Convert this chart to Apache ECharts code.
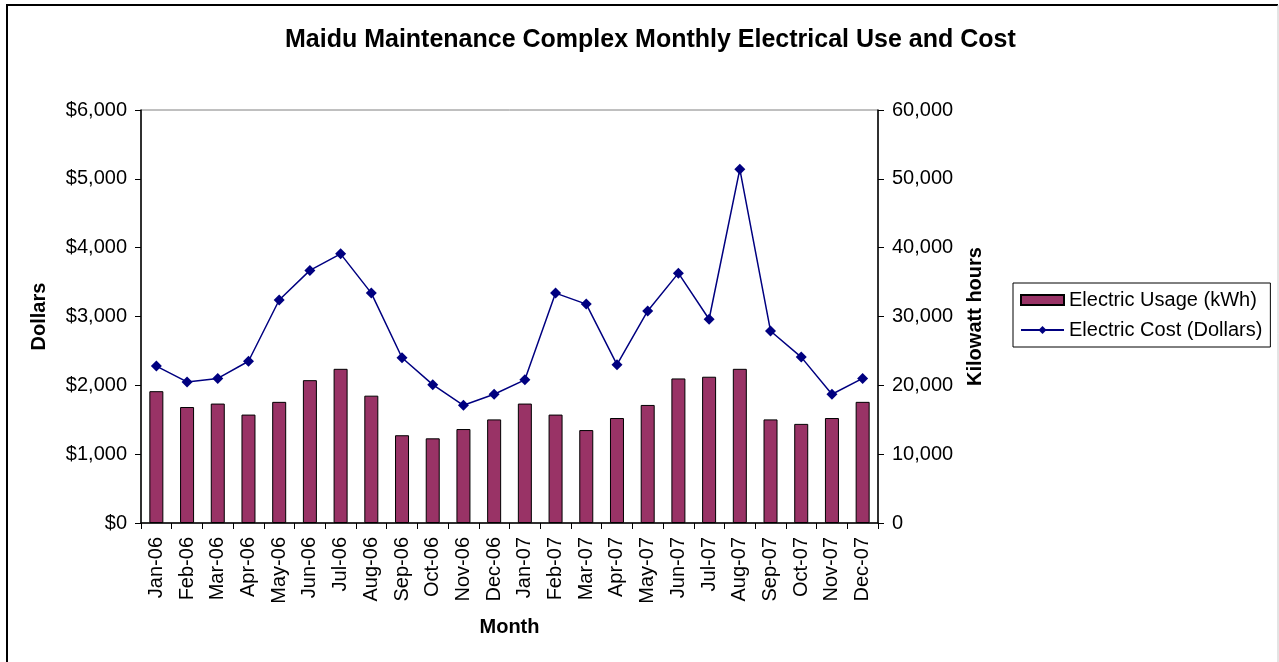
<!DOCTYPE html>
<html>
<head>
<meta charset="utf-8">
<style>
html,body{margin:0;padding:0;background:#fff;}
#chart{width:1279px;height:662px;}
</style>
<script src="https://cdn.jsdelivr.net/npm/echarts@6/dist/echarts.min.js"></script>
</head>
<body>
<div id="chart"></div>
<script>
var titleText = 'Maidu Maintenance Complex Monthly Electrical Use and Cost';
var months = ['Jan-06','Feb-06','Mar-06','Apr-06','May-06','Jun-06','Jul-06','Aug-06','Sep-06','Oct-06','Nov-06','Dec-06',
              'Jan-07','Feb-07','Mar-07','Apr-07','May-07','Jun-07','Jul-07','Aug-07','Sep-07','Oct-07','Nov-07','Dec-07'];
var usageKwh = [19150, 16850, 17350, 15750, 17600, 20750, 22400, 18500, 12750, 12300, 13650, 15050,
                17350, 15750, 13500, 15250, 17150, 21000, 21250, 22400, 15050, 14400, 15250, 17600];
var costDollars = [2280, 2050, 2100, 2350, 3240, 3670, 3910, 3340, 2400, 2010, 1710, 1870,
                   2080, 3340, 3180, 2300, 3080, 3630, 2960, 5140, 2790, 2410, 1870, 2100];
var usageName = 'Electric Usage (kWh)';
var costName = 'Electric Cost (Dollars)';

function commas(v){
  return String(v).replace(/\B(?=(\d{3})+(?!\d))/g, ',');
}

var FONT = 'Liberation Sans, Arial, sans-serif';
var chart = echarts.init(document.getElementById('chart'));
chart.setOption({
  backgroundColor: '#ffffff',
  animation: false,
  textStyle: { fontFamily: FONT },
  title: {
    text: titleText,
    left: 280,
    top: 23,
    textStyle: { fontFamily: FONT, fontSize: 25, fontWeight: 'bold', color: '#000' }
  },
  legend: {
    orient: 'vertical',
    left: 1013,
    top: 283,
    padding: [7, 8, 7, 7],
    itemGap: 10,
    itemWidth: 43,
    itemHeight: 10,
    borderColor: '#000',
    borderWidth: 1,
    textStyle: { fontFamily: FONT, fontSize: 20, color: '#000' },
    data: [
      { name: usageName, icon: 'rect' },
      { name: costName }
    ]
  },
  grid: {
    left: 141, right: 401, top: 110, bottom: 139,
    show: true, borderColor: '#808080', borderWidth: 1, backgroundColor: 'transparent'
  },
  xAxis: {
    type: 'category',
    data: months,
    name: 'Month',
    nameLocation: 'middle',
    nameGap: 94,
    nameTextStyle: { fontFamily: FONT, fontSize: 20, fontWeight: 'bold', color: '#000' },
    axisLine: { lineStyle: { color: '#000', width: 1.5 } },
    axisTick: { show: true, length: 6, alignWithLabel: false, lineStyle: { color: '#000' } },
    axisLabel: { rotate: 90, margin: 14, fontFamily: FONT, fontSize: 20, color: '#000', interval: 0 },
    splitLine: { show: false }
  },
  yAxis: [
    {
      type: 'value',
      min: 0, max: 6000, interval: 1000,
      name: 'Dollars',
      nameLocation: 'middle',
      nameRotate: 90,
      nameGap: 92,
      nameTextStyle: { fontFamily: FONT, fontSize: 20, fontWeight: 'bold', color: '#000' },
      axisLine: { show: true, lineStyle: { color: '#000', width: 1.5 } },
      axisTick: { show: true, length: 6, lineStyle: { color: '#000' } },
      axisLabel: { margin: 14, fontFamily: FONT, fontSize: 20, color: '#000',
                   formatter: function(v){ return '$' + commas(v); } },
      splitLine: { show: false }
    },
    {
      type: 'value',
      position: 'right',
      min: 0, max: 60000, interval: 10000,
      name: 'Kilowatt hours',
      nameLocation: 'middle',
      nameRotate: 90,
      nameGap: 87,
      nameTextStyle: { fontFamily: FONT, fontSize: 20, fontWeight: 'bold', color: '#000' },
      axisLine: { show: true, lineStyle: { color: '#000', width: 1.5 } },
      axisTick: { show: true, length: 6, lineStyle: { color: '#000' } },
      axisLabel: { margin: 14, fontFamily: FONT, fontSize: 20, color: '#000',
                   formatter: function(v){ return commas(v); } },
      splitLine: { show: false }
    }
  ],
  series: [
    {
      name: usageName,
      type: 'bar',
      yAxisIndex: 1,
      data: usageKwh,
      barWidth: 14,
      itemStyle: { color: '#993366', borderColor: '#000', borderWidth: 1 },
      z: 2
    },
    {
      name: costName,
      type: 'line',
      yAxisIndex: 0,
      data: costDollars,
      symbol: 'diamond',
      symbolSize: 11,
      lineStyle: { color: '#000080', width: 1.5 },
      itemStyle: { color: '#000080' },
      z: 3
    }
  ],
  graphic: [
    { type: 'line', shape: { x1: 7, y1: 4, x2: 7, y2: 662 }, style: { stroke: '#000', lineWidth: 2 } },
    { type: 'line', shape: { x1: 6, y1: 5, x2: 1278, y2: 5 }, style: { stroke: '#000', lineWidth: 2 } },
    { type: 'line', shape: { x1: 1278, y1: 5, x2: 1278, y2: 662 }, style: { stroke: '#c8c8c8', lineWidth: 1 } }
  ]
});
</script>
</body>
</html>
